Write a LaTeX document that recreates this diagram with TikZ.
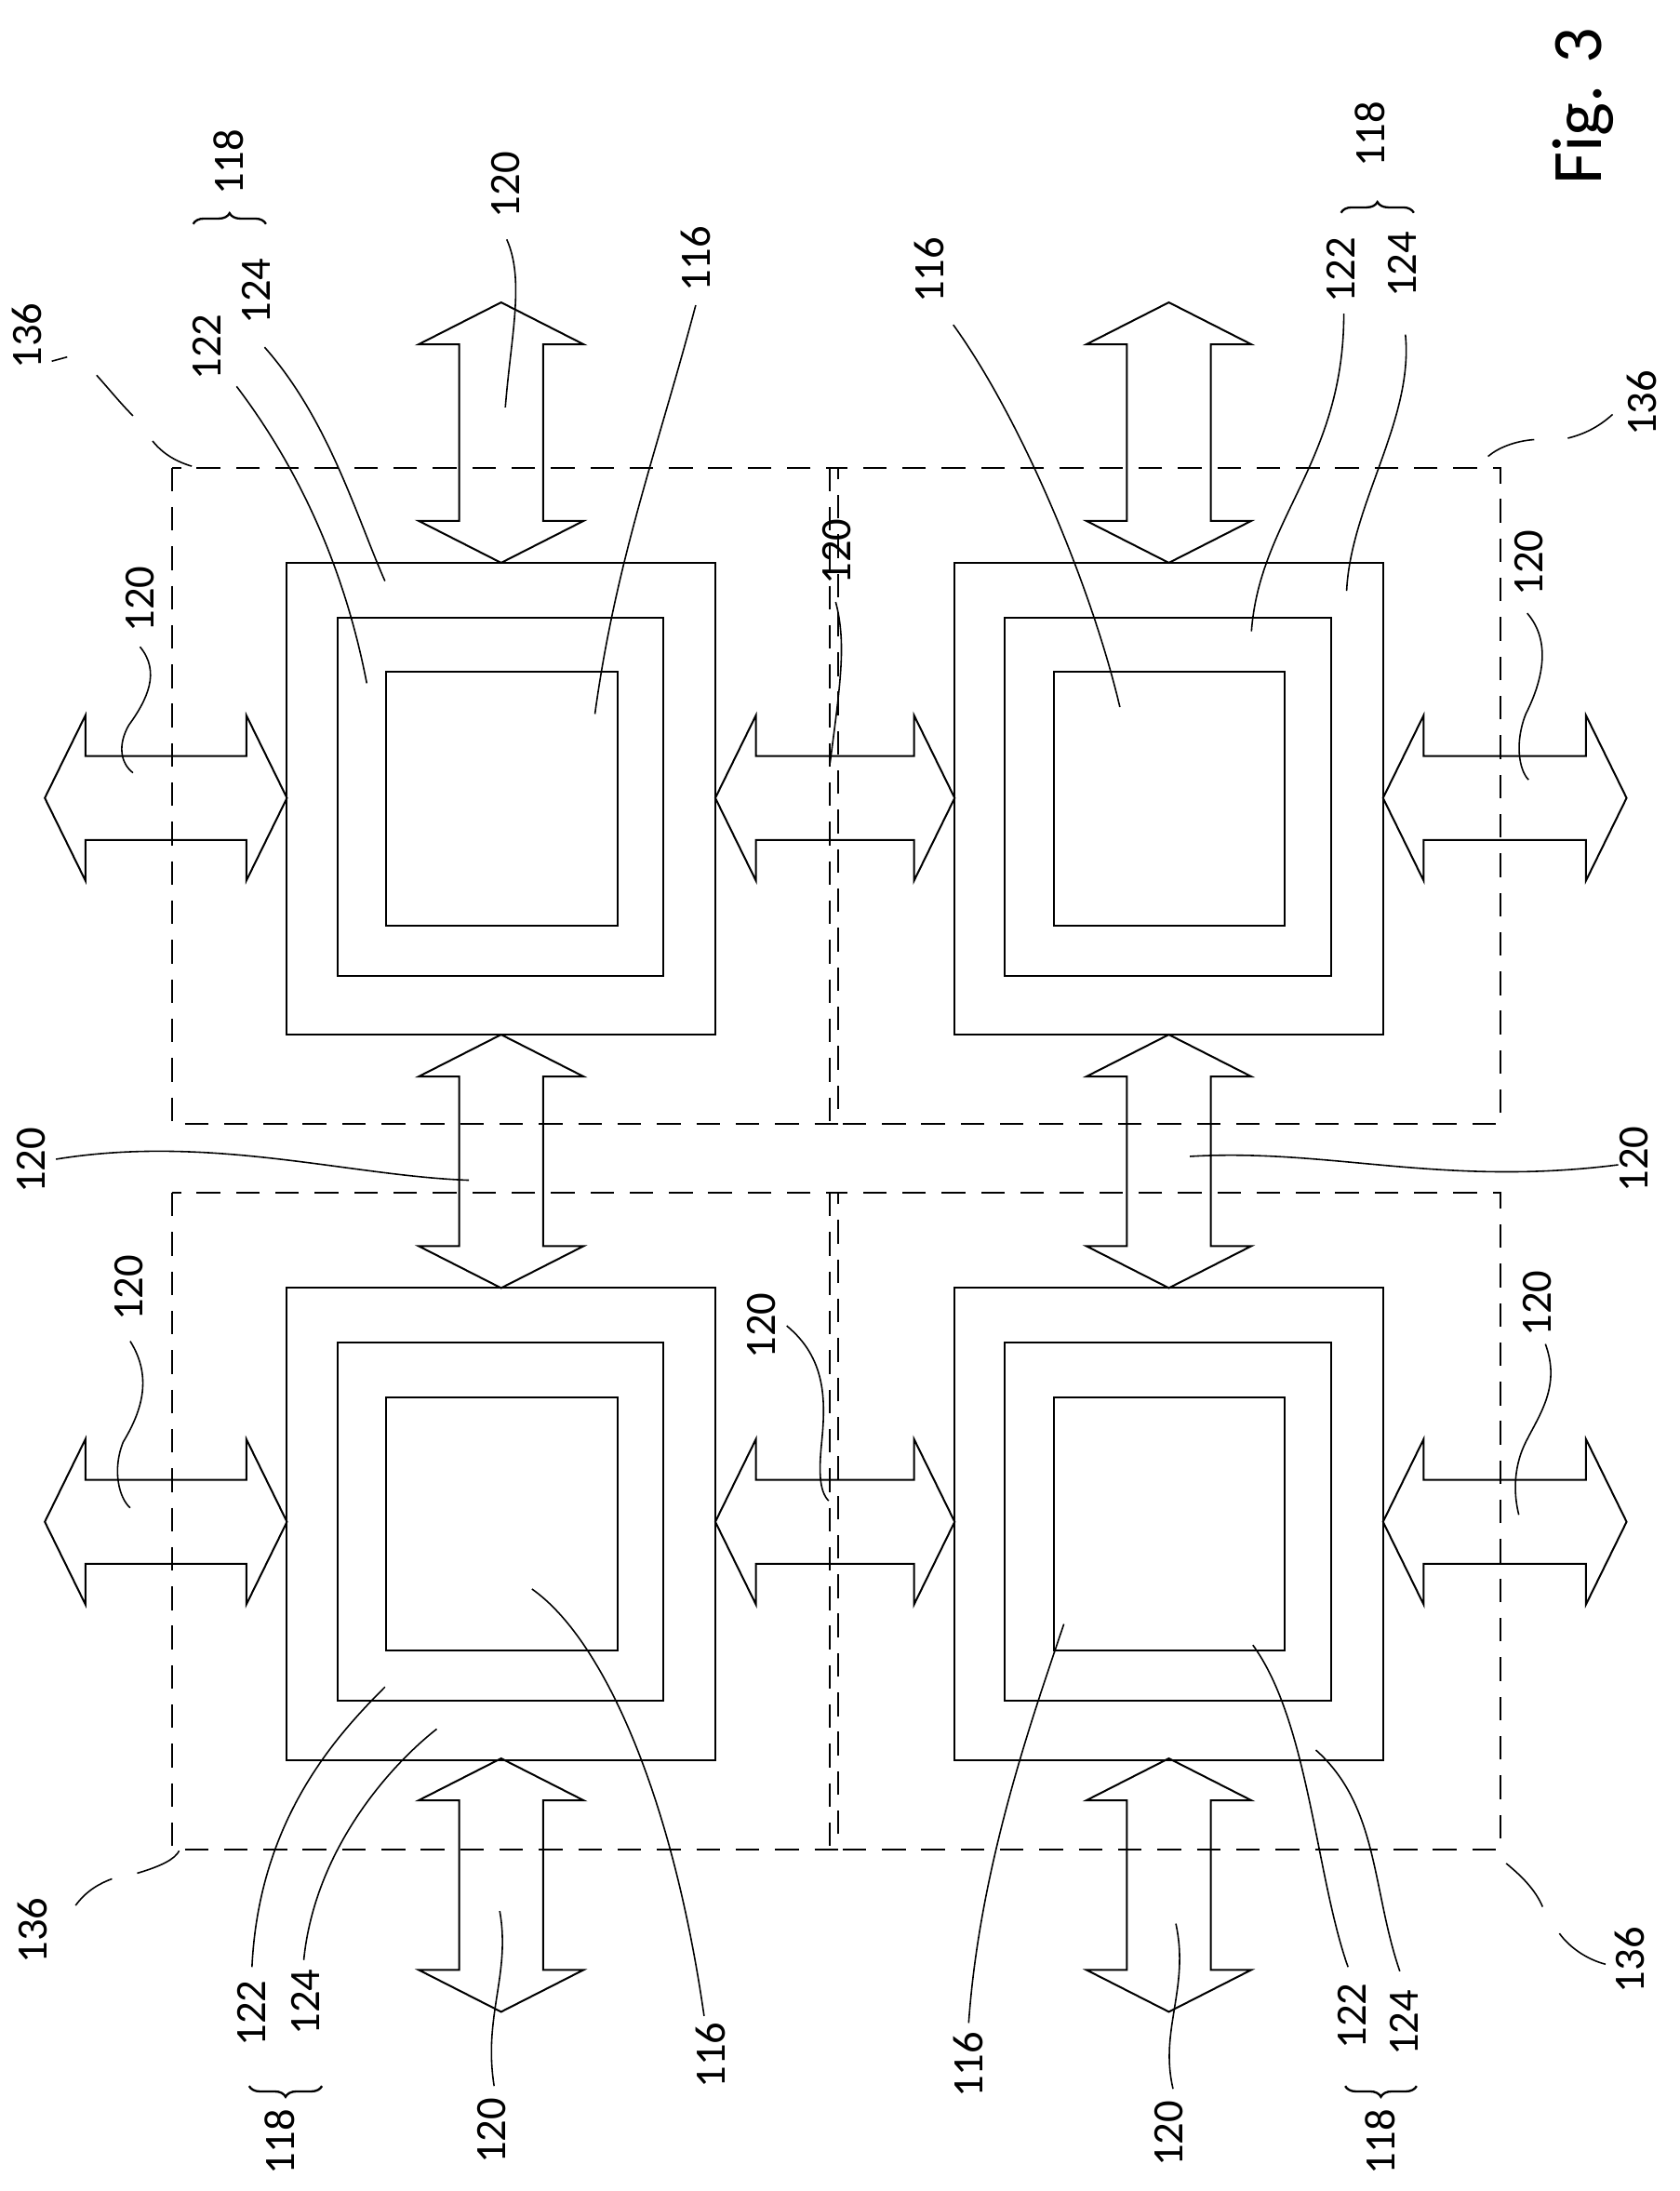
\documentclass[tikz,border=0pt]{standalone}
\usepackage{fontspec}
\setmainfont{Carlito}
\usetikzlibrary{decorations.pathreplacing}
\begin{document}
\begin{tikzpicture}[x=0.05cm,y=-0.05cm,line width=1.9pt,
  lbl/.style={rotate=90,font=\fontsize{44}{48}\selectfont,inner sep=0pt},
  dbox/.style={draw,dash pattern=on 24pt off 16pt},
  lead/.style={line width=1.5pt},
  br/.style={line width=2.2pt,decorate,decoration={brace,amplitude=11pt}}]
\useasboundingbox (0,0) rectangle (1200,1565);
\newcommand\harr[3]{\draw (#1,#3) -- (#1+29,#3-59) -- (#1+29,#3-30) -- (#2-29,#3-30) -- (#2-29,#3-59) -- (#2,#3) -- (#2-29,#3+59) -- (#2-29,#3+30) -- (#1+29,#3+30) -- (#1+29,#3+59) -- cycle;}
\newcommand\varr[3]{\draw (#1,#2) -- (#1-59,#2+30) -- (#1-30,#2+30) -- (#1-30,#3-30) -- (#1-59,#3-30) -- (#1,#3) -- (#1+59,#3-30) -- (#1+30,#3-30) -- (#1+30,#2+30) -- (#1+59,#2+30) -- cycle;}
% dashed regions
\draw[dbox] (123,334) rectangle (599,803);
\draw[dbox] (593,334) rectangle (1072,803);
\draw[dbox] (123,852) rectangle (599,1321);
\draw[dbox] (593,852) rectangle (1072,1321);
% squares
\foreach \dx/\dy in {0/0,477/0,0/518,477/518}{
  \draw (205+\dx,402+\dy) rectangle (511+\dx,739+\dy);
  \draw (241+\dx,441+\dy) rectangle (474+\dx,697+\dy);
  \draw (276+\dx,480+\dy) rectangle (441+\dx,661+\dy);
}
% arrows
\harr{32}{205}{570}
\harr{511}{682}{570}
\harr{988}{1162}{570}
\harr{32}{205}{1087}
\harr{511}{682}{1087}
\harr{988}{1162}{1087}
\varr{358}{216}{402}
\varr{835}{216}{402}
\varr{358}{739}{920}
\varr{835}{739}{920}
\varr{358}{1256}{1437}
\varr{835}{1256}{1437}
% labels
\node[lbl] (l1) at (19,240) {136};
\node[lbl] (l2) at (148,248) {122};
\node[lbl] (l3) at (183,208) {124};
\node[lbl] (l4) at (163,116) {118};
\node[lbl] (l5) at (361,132) {120};
\node[lbl] (l6) at (497,185) {116};
\node[lbl] (l7) at (100,428) {120};
\node[lbl] (l8) at (598,394) {120};
\node[lbl] (l9) at (1173,288) {136};
\node[lbl] (l10) at (979,96) {118};
\node[lbl] (l11) at (958,193) {122};
\node[lbl] (l12) at (1002,189) {124};
\node[lbl] (l13) at (664,193) {116};
\node[lbl] (l31) at (1092,402) {120};
\node[lbl] (l14) at (22,829) {120};
\node[lbl] (l15) at (1167,828) {120};
\node[lbl] (l16) at (92,920) {120};
\node[lbl] (l17) at (544,947) {120};
\node[lbl] (l18) at (1098,931) {120};
\node[lbl] (l19) at (23,1379) {136};
\node[lbl] (l20) at (180,1438) {122};
\node[lbl] (l21) at (218,1430) {124};
\node[lbl] (l22) at (200,1530) {118};
\node[lbl] (l23) at (508,1468) {116};
\node[lbl] (l24) at (351,1522) {120};
\node[lbl] (l25) at (692,1475) {116};
\node[lbl] (l26) at (835,1524) {120};
\node[lbl] (l27) at (966,1440) {122};
\node[lbl] (l28) at (1003,1445) {124};
\node[lbl] (l29) at (986,1530) {118};
\node[lbl] (l30) at (1164,1400) {136};
\node[rotate=90,font=\fontsize{72}{76}\selectfont,inner sep=0pt] (fig) at (1131,76) {Fig. 3};
% braces
\draw[br] (138,160) -- (190,160);
\draw[br] (958,152) -- (1010,152);
\draw[br] (230,1490) -- (178,1490);
\draw[br] (1012,1490) -- (961,1490);
% leaders
\draw[lead] (169,276) .. controls (210,330) and (245,400) .. (262,488);
\draw[lead] (189,248) .. controls (235,300) and (255,370) .. (275,415);
\draw[lead] (362,171) .. controls (375,200) and (365,240) .. (361,291);
\draw[lead] (497,218) .. controls (470,320) and (440,400) .. (425,510);
\draw[lead] (100,462) .. controls (115,480) and (105,500) .. (92,518) .. controls (84,532) and (86,545) .. (95,552);
\draw[lead] (597,430) .. controls (605,460) and (600,490) .. (593,545);
\draw[lead] (681,232) .. controls (730,300) and (780,420) .. (800,505);
\draw[lead] (960,224) .. controls (960,330) and (900,370) .. (894,451);
\draw[lead] (1004,239) .. controls (1010,300) and (965,360) .. (962,422);
\draw[lead] (1091,438) .. controls (1110,460) and (1100,490) .. (1090,510) .. controls (1082,530) and (1085,550) .. (1092,557);
\draw[lead] (40,828) .. controls (150,810) and (250,840) .. (335,843);
\draw[lead] (1156,832) .. controls (1030,848) and (950,820) .. (850,826);
\draw[lead] (93,958) .. controls (110,985) and (100,1010) .. (88,1030) .. controls (80,1050) and (85,1070) .. (93,1077);
\draw[lead] (562,947) .. controls (590,970) and (590,1000) .. (587,1030) .. controls (585,1050) and (585,1065) .. (592,1072);
\draw[lead] (1104,960) .. controls (1115,990) and (1100,1010) .. (1090,1030) .. controls (1080,1050) and (1082,1070) .. (1085,1082);
\draw[lead] (180,1405) .. controls (185,1300) and (240,1240) .. (275,1205);
\draw[lead] (217,1400) .. controls (225,1320) and (280,1260) .. (312,1235);
\draw[lead] (503,1440) .. controls (480,1280) and (430,1170) .. (380,1135);
\draw[lead] (353,1490) .. controls (345,1440) and (365,1410) .. (357,1365);
\draw[lead] (692,1445) .. controls (700,1330) and (740,1220) .. (760,1160);
\draw[lead] (838,1492) .. controls (828,1450) and (850,1420) .. (840,1374);
\draw[lead] (963,1405) .. controls (940,1340) and (935,1230) .. (895,1175);
\draw[lead] (1000,1408) .. controls (980,1350) and (985,1290) .. (940,1250);
% 136 leaders
\draw[lead] (37,258) -- (48,255);
\draw[lead] (69,268) .. controls (78,278) and (86,288) .. (95,297);
\draw[lead] (109,315) .. controls (117,325) and (127,330) .. (137,333);
\draw[lead] (1152,296) .. controls (1142,305) and (1132,310) .. (1120,313);
\draw[lead] (1096,314) .. controls (1082,315) and (1070,320) .. (1063,326);
\draw[lead] (54,1361) .. controls (62,1350) and (72,1345) .. (80,1342);
\draw[lead] (98,1338) .. controls (115,1333) and (125,1328) .. (128,1322);
\draw[lead] (1076,1331) .. controls (1087,1340) and (1097,1350) .. (1102,1362);
\draw[lead] (1114,1381) .. controls (1122,1392) and (1135,1400) .. (1147,1403);
\end{tikzpicture}
\end{document}
